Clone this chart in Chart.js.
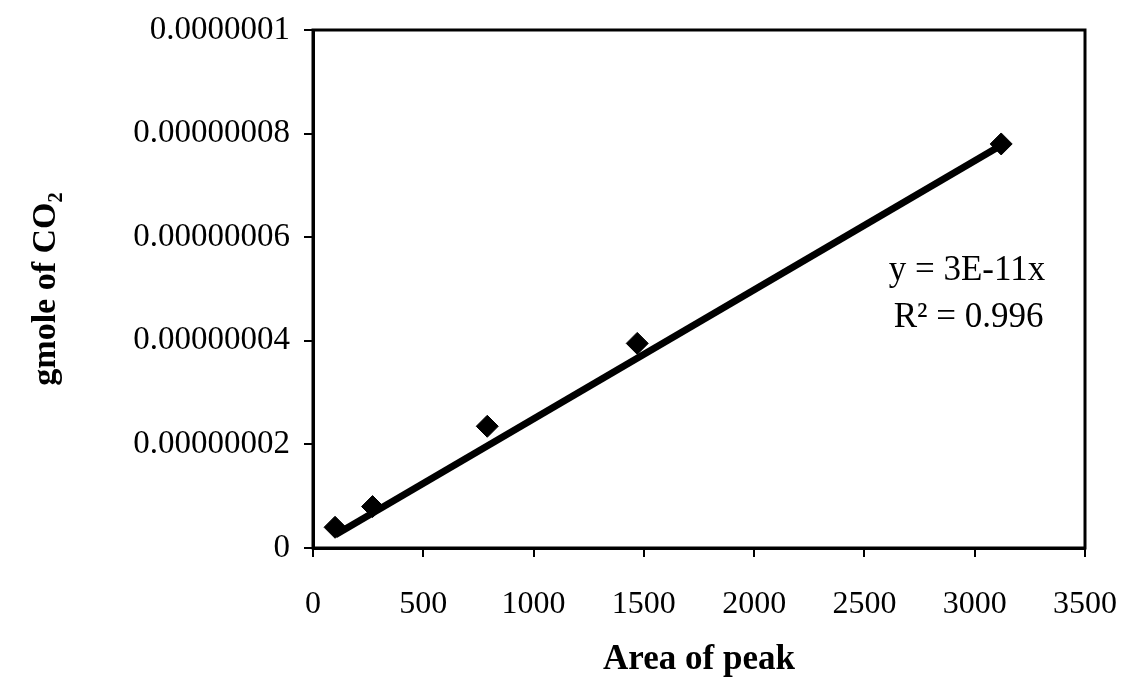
<!DOCTYPE html>
<html>
<head>
<meta charset="utf-8">
<script src="https://cdn.jsdelivr.net/npm/chart.js@4"></script>
<style>
  html, body { margin: 0; padding: 0; background: #fff; }
  #wrap { width: 1125px; height: 687px; }
</style>
</head>
<body>
<div id="wrap"><canvas id="chart" width="1125" height="687"></canvas></div>
<script>
// datos
const areaPeak = [100, 270, 790, 1470, 3120];
const gmoleCO2 = [4e-9, 8e-9, 2.35e-8, 3.95e-8, 7.8e-8];
// línea de tendencia (extremos)
const trendX = [100, 3130];
const trendY = [2.5e-9, 7.8e-8];
const xTicks = [0, 500, 1000, 1500, 2000, 2500, 3000, 3500];
const yTickLabels = ['0', '0.00000002', '0.00000004', '0.00000006', '0.00000008', '0.0000001'];
const equationLines = ['y = 3E-11x', 'R² = 0.996'];

const serif = '"Liberation Serif", "Times New Roman", serif';

// marco del área del gráfico + ecuación
const framePlugin = {
    id: 'frame',
    afterDraw(chart) {
        const ctx = chart.ctx;
        const a = chart.chartArea;
        ctx.save();
        ctx.strokeStyle = '#000';
        ctx.lineWidth = 3;
        ctx.strokeRect(a.left, a.top, a.right - a.left, a.bottom - a.top);
        ctx.fillStyle = '#000';
        ctx.font = '35px ' + serif;
        ctx.textAlign = 'left';
        ctx.textBaseline = 'middle';
        const xs = chart.scales.x, ys = chart.scales.y;
        const tx = xs.getPixelForValue(2610);
        ctx.fillText(equationLines[0], tx, ys.getPixelForValue(5.35e-8));
        ctx.fillText(equationLines[1], tx + 5, ys.getPixelForValue(4.45e-8));
        ctx.restore();
    }
};

const ctx = document.getElementById('chart').getContext('2d');
new Chart(ctx, {
    type: 'scatter',
    data: {
        datasets: [
            {
                label: 'Tendencia',
                type: 'line',
                data: trendX.map((x, i) => ({x: x, y: trendY[i]})),
                borderColor: '#000',
                borderWidth: 7,
                pointRadius: 0,
                fill: false
            },
            {
                label: 'Datos',
                data: areaPeak.map((x, i) => ({x: x, y: gmoleCO2[i]})),
                pointStyle: 'rectRot',
                pointRadius: 11,
                backgroundColor: '#000',
                borderColor: '#000'
            }
        ]
    },
    options: {
        responsive: false,
        animation: false,
        layout: {autoPadding: false, padding: {left: 22, top: 30, right: 40, bottom: 2}},
        plugins: {legend: {display: false}, tooltip: {enabled: false}},
        scales: {
            x: {
                type: 'linear',
                min: 0, max: 3500,
                afterBuildTicks: s => { s.ticks = xTicks.map(v => ({value: v})); },
                ticks: {color: '#000', font: {family: serif, size: 32}, padding: 28, maxRotation: 0,
                        callback: v => String(v)},
                grid: {drawOnChartArea: false, drawTicks: true, tickLength: 9, color: '#000', lineWidth: 2},
                border: {display: true, color: '#000', width: 3},
                title: {display: true, text: 'Area of peak', color: '#000',
                        font: {family: serif, size: 35, weight: 'bold'}},
                afterFit: s => { s.height = 137; s.paddingLeft = 0; s.paddingRight = 0; }
            },
            y: {
                type: 'linear',
                min: 0, max: 1e-7,
                afterBuildTicks: s => { s.ticks = yTickLabels.map((t, i) => ({value: i * 2e-8})); },
                ticks: {color: '#000', font: {family: serif, size: 33}, padding: 14,
                        callback: (v, i) => yTickLabels[i]},
                grid: {drawOnChartArea: false, drawTicks: true, tickLength: 9, color: '#000', lineWidth: 2},
                border: {display: true, color: '#000', width: 3},
                title: {display: true, text: 'gmole of CO₂', color: '#000',
                        font: {family: serif, size: 34, weight: 'bold'}},
                afterFit: s => { s.width = 291; s.paddingTop = 0; s.paddingBottom = 0; }
            }
        }
    },
    plugins: [framePlugin]
});
</script>
</body>
</html>
